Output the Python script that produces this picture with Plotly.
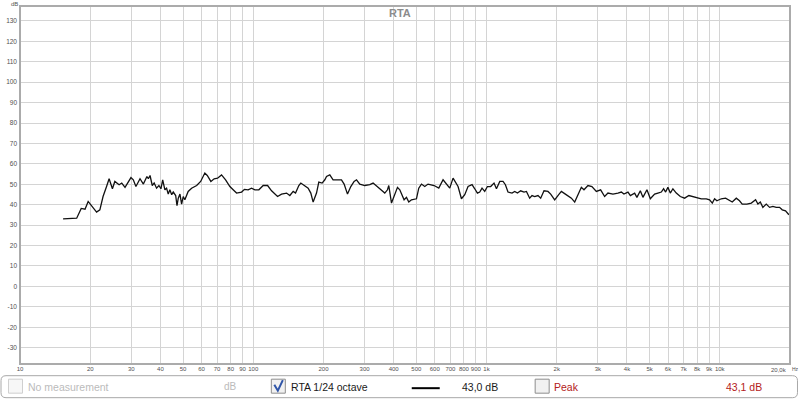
import math
import plotly.graph_objects as go

# ---------------- data ----------------
freq_hz = [15.3, 17.5, 18.3, 19.0, 19.6, 20.4, 21.3, 22.0, 22.7, 23.5, 24.1, 24.9, 25.5, 26.6, 27.3, 28.2,
           28.9, 29.9, 30.6, 31.4, 32.7, 33.8, 35.0, 35.5, 36.1, 36.9, 37.6, 38.5, 39.4, 40.2, 40.9, 41.8,
           42.5, 43.2, 43.9, 44.7, 45.4, 46.5, 47.1, 47.7, 48.5, 49.3, 50.1, 50.9, 52.6, 54.4, 57.2, 59.5,
           62.0, 63.5, 65.8, 68.0, 70.3, 73.1, 76.1, 79.4, 82.0, 84.8, 89.1, 91.7,
           95.1, 98.3, 101.6, 105.7, 110.3, 115.2, 119.8, 127.1, 132.2, 138.9, 143.5, 148.3, 151.8, 156.8,
           159.9, 166.4, 171.9, 176.5, 180.6, 186.7, 191.0, 197.3, 202.7, 206.1, 212.9, 219.9, 227.5, 238.9,
           245.2, 253.5, 261.9, 270.6, 277.1, 286.2, 300.7, 316.0, 326.4, 342.9, 354.6, 366.3, 376.2, 381.1,
           391.4, 401.6, 415.2, 424.8, 443.2, 453.8, 464.2, 476.7, 500.8, 512.3, 526.1, 543.5, 561.5, 596.0,
           624.2, 651.2, 673.4, 695.6, 718.7, 755.0, 780.8, 806.6, 833.4, 866.9, 890.3, 914.2, 935.2, 956.6,
           982.4, 1009, 1042, 1077, 1103, 1140, 1177, 1205, 1236, 1286, 1321, 1357, 1401, 1448, 1483, 1531,
           1567, 1609, 1662, 1707, 1764, 1834, 1884, 1960, 2039, 2094, 2178, 2235, 2311, 2388, 2466, 2550,
           2617, 2722, 2831, 2957, 3085, 3209, 3316, 3483, 3659, 3784, 3882,
           4040, 4137, 4315, 4414, 4565, 4683, 4872, 5038, 5256, 5429, 5615, 5743, 5858, 5992, 6136, 6295,
           6510, 6772, 7067, 7373, 7670, 7979, 8332, 8754, 9043, 9288, 9500, 9718, 10150, 10590, 10940,
           11310, 11770, 12150, 12480, 13070, 13650, 14240, 14570, 14920, 15300, 15820, 16350, 16890,
           17460, 18040, 18530, 19140, 19780]

level_db = [33.1, 33.4, 38.2, 37.8, 41.6, 39.2, 36.4, 37.5, 44.0, 48.9, 52.7, 47.8, 51.4, 49.8, 50.6, 48.5,
            50.6, 53.3, 52.2, 48.9, 52.7, 50.1, 53.8, 52.7, 54.3, 49.4, 50.6, 48.1, 49.4, 47.8, 52.2, 47.3,
            48.1, 45.2, 47.3, 44.9, 46.2, 44.5, 39.5, 43.2, 45.2, 40.3, 44.0, 42.4, 46.5, 48.1, 49.4, 51.4,
            55.5, 54.3, 51.4, 52.7, 53.0, 54.6, 52.2, 48.9, 47.3, 45.7, 46.2, 47.5,
            47.3, 48.1, 47.3, 47.3, 49.4, 49.4, 46.8, 44.0, 45.2, 45.7, 44.5, 46.5, 45.7, 49.4,
            50.6, 49.4, 48.1, 45.7, 41.3, 45.7, 51.1, 50.6, 52.2, 53.8, 54.6, 52.2, 52.2, 52.2,
            50.1, 45.2, 48.9, 51.4, 52.2, 50.1, 49.4, 49.8, 50.6, 48.5, 46.8, 45.7, 47.3, 49.4,
            40.8, 44.0, 48.5, 47.3, 42.4, 43.6, 41.3, 42.4, 42.9, 48.1, 50.1, 48.9, 50.1, 49.4,
            48.1, 52.2, 49.8, 48.1, 53.0, 48.9, 42.9, 44.9, 48.9, 49.8, 47.8, 45.7, 46.2, 48.1,
            46.5, 48.9, 48.9, 50.6, 47.8, 51.4, 51.4, 49.8, 46.2, 45.7, 46.5, 45.7, 46.8, 46.2, 46.5, 43.2,
            44.5, 44.0, 44.5, 43.2, 46.8, 46.5, 45.2, 42.4, 44.9, 46.5, 45.2, 44.5, 43.2, 41.3, 44.9, 48.5,
            47.3, 49.4, 48.9, 46.5, 47.3, 44.0, 45.7, 45.2, 45.7, 46.2, 45.2,
            46.2, 44.5, 45.7, 43.6, 46.8, 43.6, 47.3, 42.9, 45.2, 45.7, 46.2, 47.8, 46.2, 48.5, 45.7, 47.8,
            45.7, 44.0, 43.2, 44.5, 44.0, 43.2, 42.9, 42.9, 42.4, 40.8, 42.9, 41.9, 42.9, 43.2, 42.4,
            41.3, 43.2, 41.9, 40.3, 40.3, 40.8, 42.4, 40.3, 41.3, 38.7, 40.3, 38.7, 39.2,
            38.7, 38.7, 37.5, 37.0, 35.1]

x_tick_vals = [10, 20, 30, 40, 50, 60, 70, 80, 90, 100, 200, 300, 400, 500, 600, 700, 800, 900,
               1000, 2000, 3000, 4000, 5000, 6000, 7000, 8000, 9000, 10000]
x_tick_text = ["10", "20", "30", "40", "50", "60", "70", "80", "90", "100", "200", "300", "400", "500",
               "600", "700", "800", "900", "1k", "2k", "3k", "4k", "5k", "6k", "7k", "8k", "9k", "10k"]
y_tick_vals = [-30, -20, -10, 0, 10, 20, 30, 40, 50, 60, 70, 80, 90, 100, 110, 120, 130]
y_tick_text = [str(v) for v in y_tick_vals]

x_min_hz, x_max_hz = 10, 20000
y_min_db, y_max_db = -38, 137.3

legend_values = {"rta": "43,0 dB", "peak": "43,1 dB"}

# ---------------- layout helpers ----------------
W, H = 800, 400
PL, PR, PT, PB = 20, 790.5, 6, 364.3


def px(x):
    return (x - PL) / (PR - PL)


def py(y):
    return (PB - y) / (PB - PT)


FONT = "Liberation Sans, Arial, sans-serif"

fig = go.Figure()
fig.add_trace(go.Scatter(x=freq_hz, y=level_db, mode="lines",
                         line=dict(color="#111111", width=1.3), hoverinfo="skip",
                         showlegend=False))

fig.update_layout(
    width=W, height=H,
    margin=dict(l=PL, r=W - PR, t=PT, b=H - PB, pad=0, autoexpand=False),
    paper_bgcolor="white", plot_bgcolor="white",
    showlegend=False,
    xaxis=dict(type="log", range=[math.log10(x_min_hz), math.log10(x_max_hz)],
               tickvals=x_tick_vals, ticktext=x_tick_text, tickangle=0, automargin=False,
               showgrid=True, gridcolor="#d4d4d4", gridwidth=1,
               zeroline=False, showline=False, ticks="",
               tickfont=dict(family=FONT, size=6, color="#505050"), fixedrange=True),
    yaxis=dict(range=[y_min_db, y_max_db], tickvals=y_tick_vals, ticktext=y_tick_text,
               automargin=False,
               showgrid=True, gridcolor="#d4d4d4", gridwidth=1,
               zeroline=False, showline=False, ticks="", ticklabelstandoff=2,
               tickfont=dict(family=FONT, size=6.5, color="#505050"), fixedrange=True),
)

shapes = []
# plot frame
shapes.append(dict(type="rect", xref="paper", yref="paper", x0=0, y0=0, x1=1, y1=1,
                   line=dict(color="#ababab", width=2), layer="above"))


def rounded_rect(x0, y0, x1, y1, r):
    def P(x, y):
        return f"{px(x):.5f},{py(y):.5f}"
    return (f"M {P(x0 + r, y0)} L {P(x1 - r, y0)} Q {P(x1, y0)} {P(x1, y0 + r)} "
            f"L {P(x1, y1 - r)} Q {P(x1, y1)} {P(x1 - r, y1)} L {P(x0 + r, y1)} "
            f"Q {P(x0, y1)} {P(x0, y1 - r)} L {P(x0, y0 + r)} Q {P(x0, y0)} {P(x0 + r, y0)} Z")


# legend panel
shapes.append(dict(type="path", xref="paper", yref="paper", path=rounded_rect(1, 376, 798, 398, 5),
                   line=dict(color="#a8a8a8", width=1), fillcolor="white"))


def checkbox(x0, y0, x1, y1, border, fill):
    shapes.append(dict(type="rect", xref="paper", yref="paper", x0=px(x0), y0=py(y1), x1=px(x1), y1=py(y0),
                       line=dict(color=border, width=1), fillcolor=fill))


checkbox(8.5, 379.5, 22.5, 393.5, "#cfcfcf", "#f7f7f7")
checkbox(271.5, 379.5, 285.5, 393.5, "#8e8e8e", "#f1f1f1")
checkbox(535.5, 379.5, 549.5, 393.5, "#8e8e8e", "#f1f1f1")
# check mark
shapes.append(dict(type="path", xref="paper", yref="paper",
                   path=f"M {px(274.5)},{py(385)} L {px(278)},{py(391)} L {px(283)},{py(380.5)}",
                   line=dict(color="#2f55a8", width=2)))
# legend line sample
shapes.append(dict(type="line", xref="paper", yref="paper", x0=px(412), y0=py(388.5), x1=px(440), y1=py(388.5),
                   line=dict(color="black", width=2)))

annotations = []


def txt(x, y, s, size, color, anchor="left", bold=False):
    annotations.append(dict(xref="paper", yref="paper", x=px(x), y=py(y), text=f"<b>{s}</b>" if bold else s,
                            showarrow=False, xanchor=anchor, yanchor="middle",
                            font=dict(family=FONT, size=size, color=color)))


txt(400, 13, "RTA", 11, "#8c8c8c", "center", bold=True)
txt(14.5, 3.5, "dB", 6, "#555555", "center")
txt(789.5, 370, "20,0k", 6, "#505050", "right")
txt(791, 369.5, "Hz", 5, "#505050", "left")

txt(26, 387, "No measurement", 10.5, "#bbbbbb")
txt(231, 387, "dB", 10, "#bbbbbb", "center")
txt(289.5, 387, "RTA 1/24 octave", 10.5, "#1a1a1a")
txt(500.5, 387, legend_values["rta"], 10.5, "#1a1a1a", "right")
txt(552, 387, "Peak", 10.5, "#b42020")
txt(764.5, 387, legend_values["peak"], 10.5, "#b42020", "right")

fig.update_layout(shapes=shapes, annotations=annotations)
fig.write_html("out.html", config={"displayModeBar": False},
               post_script="document.body.style.margin='0';document.body.style.overflow='hidden';")
